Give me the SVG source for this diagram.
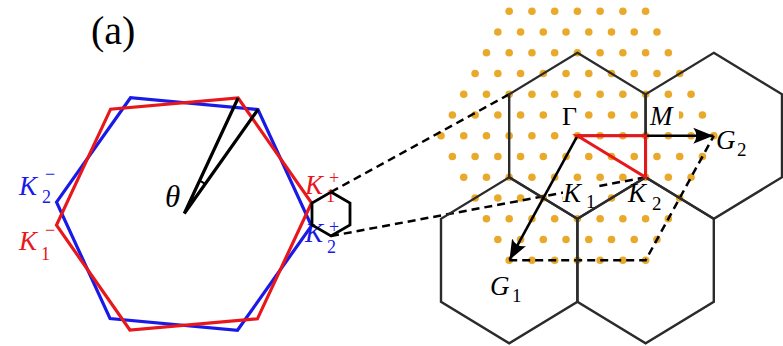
<svg xmlns="http://www.w3.org/2000/svg" xmlns:xlink="http://www.w3.org/1999/xlink" width="783" height="346" viewBox="0 0 783 346">
<style>
text{font-family:"Liberation Serif","DejaVu Serif",serif}
.it{font-style:italic}
.blue{fill:#1a1ae6}
.red{fill:#e8171c}
.bzb{fill:none;stroke:#1a1ae6;stroke-width:3.2;stroke-linejoin:miter}
.bzr{fill:none;stroke:#e8171c;stroke-width:3.2;stroke-linejoin:miter}
.hex{fill:none;stroke:#2b2b2b;stroke-width:2.4}
.dash{fill:none;stroke:#000;stroke-width:2.5;stroke-dasharray:8 5}
.vec{fill:none;stroke:#000;stroke-width:2.6}
.dot{fill:#e9aa2b}
.bg{fill:#fff}
</style>
<defs>
<marker id="ah" markerUnits="userSpaceOnUse" markerWidth="22" markerHeight="18" refX="20" refY="9" orient="auto" viewBox="0 0 22 18">
<path d="M20,9 L0,1 Q6,9 0,17 Z" fill="#000"/>
</marker>
<g id="r13" class="dot"><circle cx="441" cy="0" r="3.8"/><circle cx="463.73" cy="0" r="3.8"/><circle cx="486.47" cy="0" r="3.8"/><circle cx="509.2" cy="0" r="3.8"/><circle cx="531.93" cy="0" r="3.8"/><circle cx="554.67" cy="0" r="3.8"/><circle cx="577.4" cy="0" r="3.8"/><circle cx="600.13" cy="0" r="3.8"/><circle cx="622.87" cy="0" r="3.8"/><circle cx="645.6" cy="0" r="3.8"/><circle cx="668.33" cy="0" r="3.8"/><circle cx="691.07" cy="0" r="3.8"/><circle cx="713.8" cy="0" r="3.8"/></g>
<g id="r11" class="dot"><circle cx="463.73" cy="0" r="3.8"/><circle cx="486.47" cy="0" r="3.8"/><circle cx="509.2" cy="0" r="3.8"/><circle cx="531.93" cy="0" r="3.8"/><circle cx="554.67" cy="0" r="3.8"/><circle cx="577.4" cy="0" r="3.8"/><circle cx="600.13" cy="0" r="3.8"/><circle cx="622.87" cy="0" r="3.8"/><circle cx="645.6" cy="0" r="3.8"/><circle cx="668.33" cy="0" r="3.8"/><circle cx="691.07" cy="0" r="3.8"/></g>
<g id="r9" class="dot"><circle cx="486.47" cy="0" r="3.8"/><circle cx="509.2" cy="0" r="3.8"/><circle cx="531.93" cy="0" r="3.8"/><circle cx="554.67" cy="0" r="3.8"/><circle cx="577.4" cy="0" r="3.8"/><circle cx="600.13" cy="0" r="3.8"/><circle cx="622.87" cy="0" r="3.8"/><circle cx="645.6" cy="0" r="3.8"/><circle cx="668.33" cy="0" r="3.8"/></g>
<g id="r7" class="dot"><circle cx="509.2" cy="0" r="3.8"/><circle cx="531.93" cy="0" r="3.8"/><circle cx="554.67" cy="0" r="3.8"/><circle cx="577.4" cy="0" r="3.8"/><circle cx="600.13" cy="0" r="3.8"/><circle cx="622.87" cy="0" r="3.8"/><circle cx="645.6" cy="0" r="3.8"/></g>
<g id="r12" class="dot"><circle cx="452.37" cy="0" r="3.8"/><circle cx="475.1" cy="0" r="3.8"/><circle cx="497.83" cy="0" r="3.8"/><circle cx="520.57" cy="0" r="3.8"/><circle cx="543.3" cy="0" r="3.8"/><circle cx="566.03" cy="0" r="3.8"/><circle cx="588.77" cy="0" r="3.8"/><circle cx="611.5" cy="0" r="3.8"/><circle cx="634.23" cy="0" r="3.8"/><circle cx="656.97" cy="0" r="3.8"/><circle cx="679.7" cy="0" r="3.8"/><circle cx="702.43" cy="0" r="3.8"/></g>
<g id="r10" class="dot"><circle cx="475.1" cy="0" r="3.8"/><circle cx="497.83" cy="0" r="3.8"/><circle cx="520.57" cy="0" r="3.8"/><circle cx="543.3" cy="0" r="3.8"/><circle cx="566.03" cy="0" r="3.8"/><circle cx="588.77" cy="0" r="3.8"/><circle cx="611.5" cy="0" r="3.8"/><circle cx="634.23" cy="0" r="3.8"/><circle cx="656.97" cy="0" r="3.8"/><circle cx="679.7" cy="0" r="3.8"/></g>
<g id="r8" class="dot"><circle cx="497.83" cy="0" r="3.8"/><circle cx="520.57" cy="0" r="3.8"/><circle cx="543.3" cy="0" r="3.8"/><circle cx="566.03" cy="0" r="3.8"/><circle cx="588.77" cy="0" r="3.8"/><circle cx="611.5" cy="0" r="3.8"/><circle cx="634.23" cy="0" r="3.8"/><circle cx="656.97" cy="0" r="3.8"/></g>
</defs>

<text x="91" y="43.5" font-size="40">(a)</text>

<!-- Left panel: two twisted Brillouin zones -->
<g id="bz-blue">
<polygon class="bzb" points="311.45,225.82 237.49,330.29 110.03,318.47 56.55,202.18 130.51,97.71 257.97,109.53"/>
</g>
<g id="bz-red">
<polygon class="bzr" points="311.51,202.84 257.42,318.85 129.9,330.01 56.49,225.16 110.58,109.15 238.1,97.99"/>
</g>
<g id="theta">
<path d="M238.1,98 L184.3,213.5 L258,109.5" fill="none" stroke="#000" stroke-width="3.2" stroke-linejoin="miter"/>
<path d="M199.5,180.6 A36,36 0 0 1 205,183.9" fill="none" stroke="#000" stroke-width="2"/>
<text class="it" x="165" y="207" font-size="31">θ</text>
</g>
<g id="label-K2m" class="blue">
<text class="it" x="19" y="195" font-size="27">K</text>
<text x="42" y="202.5" font-size="18">2</text>
<text x="45" y="179.5" font-size="18">−</text>
</g>
<g id="label-K1m" class="red">
<text class="it" x="19" y="250" font-size="27">K</text>
<text x="41" y="259.5" font-size="18">1</text>
<text x="45" y="236" font-size="18">−</text>
</g>
<g id="label-K1p" class="red">
<text class="it" x="305" y="193.5" font-size="27">K</text>
<text x="326" y="201.5" font-size="18">1</text>
<text x="329" y="184" font-size="18">+</text>
</g>
<g id="label-K2p" class="blue">
<text class="it" x="305" y="242" font-size="27">K</text>
<text x="327" y="252.5" font-size="18">2</text>
<text x="329" y="233" font-size="18">+</text>
</g>
<g id="mini-hex">
<polygon points="331,192 350,203 350,225 331,236 312,225 312,203" fill="none" stroke="#000" stroke-width="2.8"/>
</g>

<!-- Right panel -->
<g id="lattice-dots">
<use xlink:href="#r7" href="#r7" transform="translate(0,11.3)"/>
<use xlink:href="#r8" href="#r8" transform="translate(0,32.05)"/>
<use xlink:href="#r9" href="#r9" transform="translate(0,52.8)"/>
<use xlink:href="#r10" href="#r10" transform="translate(0,73.55)"/>
<use xlink:href="#r11" href="#r11" transform="translate(0,94.3)"/>
<use xlink:href="#r12" href="#r12" transform="translate(0,115.05)"/>
<use xlink:href="#r13" href="#r13" transform="translate(0,135.8)"/>
<use xlink:href="#r12" href="#r12" transform="translate(0,156.55)"/>
<use xlink:href="#r11" href="#r11" transform="translate(0,177.3)"/>
<use xlink:href="#r10" href="#r10" transform="translate(0,198.05)"/>
<use xlink:href="#r9" href="#r9" transform="translate(0,218.8)"/>
<use xlink:href="#r8" href="#r8" transform="translate(0,239.55)"/>
<use xlink:href="#r7" href="#r7" transform="translate(0,260.3)"/>
</g>

<g id="connectors">
<line class="dash" x1="331" y1="192" x2="509.2" y2="94.3"/>
<line class="dash" x1="331" y1="236" x2="645.6" y2="177.3"/>
<polyline class="dash" points="509.2,260.3 645.6,260.3 713.8,135.8"/>
</g>

<g id="label-backgrounds">
<rect class="bg" x="562" y="107" width="17" height="20"/>
<rect class="bg" x="650" y="105" width="29" height="22"/>
<rect class="bg" x="563" y="182" width="36" height="26"/>
<rect class="bg" x="628" y="183" width="39" height="29"/>
</g>

<g id="hex-top"><polygon class="hex" points="577.4,52.8 645.6,94.3 645.6,177.3 577.4,218.8 509.2,177.3 509.2,94.3"/></g>
<g id="hex-top-right"><polygon class="hex" points="713.8,52.8 782,94.3 782,177.3 713.8,218.8 645.6,177.3 645.6,94.3"/></g>
<g id="hex-bottom-left"><polygon class="hex" points="509.2,177.3 577.4,218.8 577.4,301.8 509.2,343.3 441,301.8 441,218.8"/></g>
<g id="hex-bottom-right"><polygon class="hex" points="645.6,177.3 713.8,218.8 713.8,301.8 645.6,343.3 577.4,301.8 577.4,218.8"/></g>

<g id="vectors">
<line class="vec" x1="577.4" y1="135.8" x2="713.3" y2="135.8" marker-end="url(#ah)"/>
<line class="vec" x1="577.4" y1="135.8" x2="509.5" y2="259.8" marker-end="url(#ah)"/>
<polygon points="577.4,135.8 645.6,135.8 645.6,177.3" fill="none" stroke="#e8171c" stroke-width="3" stroke-linejoin="miter"/>
</g>

<g id="label-Gamma"><text x="562" y="125" font-size="26">Γ</text></g>
<g id="label-M"><text class="it" x="650" y="125" font-size="27">M</text></g>
<g id="label-G2"><text class="it" x="716" y="148.5" font-size="27">G</text><text x="737" y="156" font-size="19">2</text></g>
<g id="label-G1"><text class="it" x="490" y="295" font-size="27">G</text><text x="512" y="302" font-size="19">1</text></g>
<g id="label-K1"><text class="it" x="563" y="201.5" font-size="27">K</text><text x="586" y="208" font-size="19">1</text></g>
<g id="label-K2"><text class="it" x="628" y="201.5" font-size="27">K</text><text x="652" y="210" font-size="19">2</text></g>
</svg>
